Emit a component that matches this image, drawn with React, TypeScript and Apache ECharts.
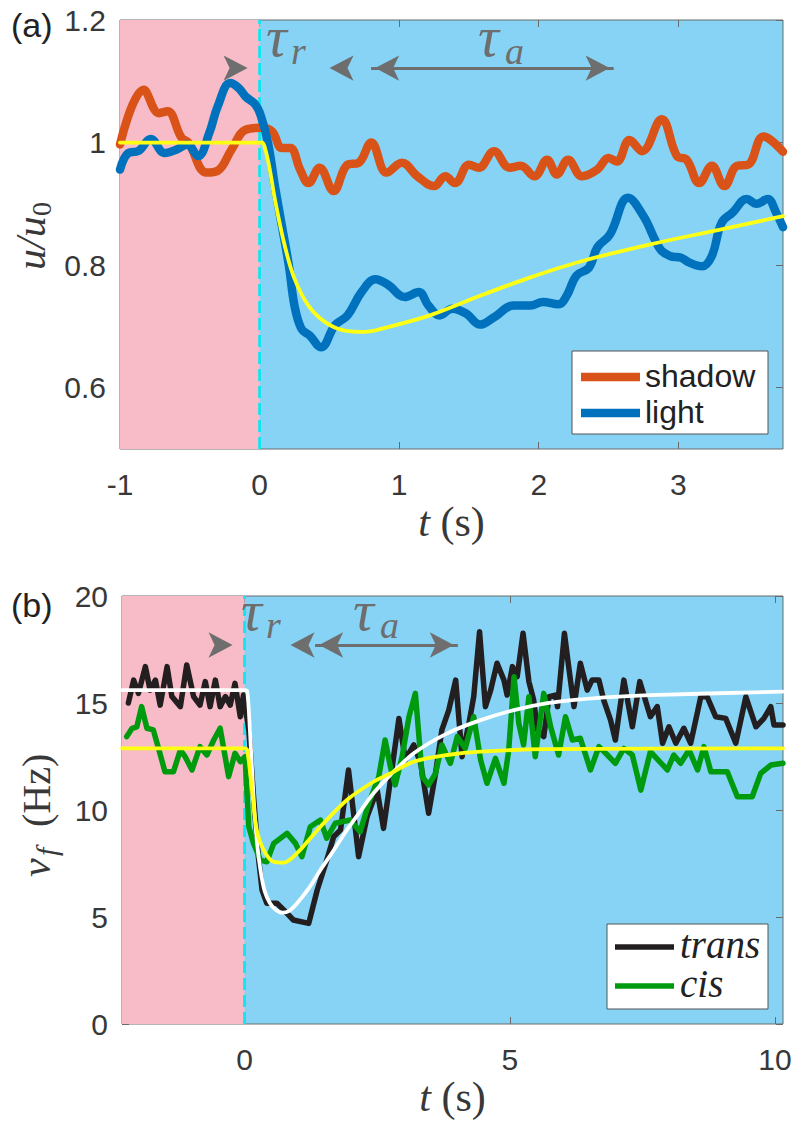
import React, { useEffect, useRef } from 'react';
import * as echarts from 'echarts';

// ---------- Panel (a) data: t (s), u/u0 ----------
const shadowA: number[][] = [
  [-1.0, 0.997], [-0.83, 1.086], [-0.72, 1.048], [-0.66, 1.051], [-0.56, 1.008], [-0.51, 1.0],
  [-0.38, 0.951], [-0.3, 0.954], [-0.2, 0.989], [-0.1, 1.021], [0.01, 1.024], [0.09, 1.018],
  [0.16, 0.991], [0.22, 0.991], [0.29, 0.956], [0.35, 0.934], [0.43, 0.959], [0.53, 0.921],
  [0.63, 0.964], [0.71, 0.967], [0.8, 1.0], [0.91, 0.951], [1.02, 0.967], [1.13, 0.945],
  [1.25, 0.929], [1.33, 0.945], [1.4, 0.934], [1.5, 0.964], [1.57, 0.959], [1.68, 0.986],
  [1.79, 0.959], [1.87, 0.962], [1.97, 0.945], [2.06, 0.972], [2.13, 0.948], [2.21, 0.972],
  [2.31, 0.945], [2.42, 0.956], [2.5, 0.975], [2.56, 0.969], [2.65, 1.004], [2.74, 0.986],
  [2.88, 1.038], [2.99, 0.978], [3.06, 0.972], [3.15, 0.934], [3.24, 0.962], [3.33, 0.929],
  [3.42, 0.962], [3.5, 0.964], [3.61, 1.01], [3.75, 0.985],
];
const lightA: number[][] = [
  [-1.0, 0.956], [-0.94, 0.983], [-0.87, 0.986], [-0.78, 1.006], [-0.68, 0.983], [-0.59, 0.989],
  [-0.52, 0.997], [-0.44, 0.978], [-0.36, 1.016], [-0.3, 1.059], [-0.21, 1.097], [-0.15, 1.089],
  [-0.1, 1.075], [-0.03, 1.062], [0.01, 1.043], [0.06, 1.0], [0.11, 0.929], [0.16, 0.864],
  [0.21, 0.799], [0.25, 0.734], [0.3, 0.696], [0.36, 0.685], [0.44, 0.666], [0.54, 0.702],
  [0.63, 0.718], [0.73, 0.756], [0.83, 0.777], [0.92, 0.768], [1.04, 0.748], [1.14, 0.756],
  [1.21, 0.734], [1.29, 0.718], [1.38, 0.729], [1.48, 0.721], [1.58, 0.703], [1.68, 0.715],
  [1.82, 0.734], [1.94, 0.734], [2.03, 0.74], [2.14, 0.736], [2.2, 0.75], [2.27, 0.783],
  [2.36, 0.796], [2.42, 0.829], [2.51, 0.85], [2.64, 0.91], [2.75, 0.88], [2.87, 0.826],
  [2.94, 0.815], [3.02, 0.812], [3.08, 0.804], [3.17, 0.798], [3.24, 0.815], [3.31, 0.869],
  [3.39, 0.886], [3.49, 0.908], [3.56, 0.9], [3.64, 0.908], [3.7, 0.886], [3.75, 0.862],
];
const fitA: number[][] = [
  [-1.0, 1.0], [0.0, 1.0], [0.02, 1.0], [0.04, 0.99], [0.07, 0.96], [0.11, 0.907], [0.18, 0.832],
  [0.25, 0.778], [0.35, 0.734], [0.47, 0.707], [0.61, 0.693], [0.75, 0.691], [0.92, 0.699],
  [1.22, 0.718], [1.58, 0.75], [1.94, 0.78], [2.3, 0.806], [2.8, 0.834], [3.3, 0.858], [3.75, 0.88],
];

// ---------- Panel (b) data: t (s), nu_f (Hz) ----------
const transB: number[][] = [
  [-2.19, 15.0], [-2.09, 16.07], [-2.0, 15.45], [-1.87, 16.7], [-1.78, 15.6], [-1.68, 16.07],
  [-1.59, 14.9], [-1.46, 16.7], [-1.37, 15.3], [-1.21, 14.83], [-1.09, 16.78], [-0.96, 15.3],
  [-0.84, 14.9], [-0.74, 16.0], [-0.65, 14.83], [-0.55, 16.07], [-0.46, 14.83], [-0.36, 15.3],
  [-0.27, 14.9], [-0.18, 15.92], [-0.08, 14.36], [-0.02, 15.37], [0.08, 13.74], [0.17, 10.62],
  [0.26, 7.82], [0.33, 6.26], [0.42, 5.64], [0.61, 5.64], [0.74, 5.33], [0.92, 4.86], [1.21, 4.7],
  [1.37, 6.26], [1.55, 7.66], [1.68, 8.75], [1.81, 9.07], [1.96, 11.87], [2.15, 7.82], [2.31, 9.69],
  [2.5, 10.93], [2.62, 9.14], [2.75, 11.4], [2.91, 14.28], [3.03, 12.34], [3.19, 13.04],
  [3.32, 12.18], [3.47, 9.85], [3.6, 11.71], [3.72, 13.74], [3.85, 14.67], [3.98, 16.07],
  [4.1, 12.49], [4.23, 14.05], [4.32, 15.29], [4.43, 18.33], [4.54, 14.83], [4.64, 15.6],
  [4.76, 16.86], [4.89, 16.07], [4.95, 15.37], [5.05, 16.7], [5.14, 16.23], [5.25, 18.26],
  [5.36, 16.0], [5.45, 15.14], [5.52, 13.74], [5.64, 13.43], [5.74, 15.3], [5.86, 15.37],
  [5.9, 14.83], [6.03, 18.26], [6.11, 16.7], [6.21, 14.83], [6.33, 16.86], [6.46, 15.6],
  [6.55, 16.07], [6.68, 16.07], [6.77, 15.14], [6.9, 14.2], [6.99, 13.27], [7.15, 16.07],
  [7.31, 13.89], [7.45, 16.0], [7.65, 14.36], [7.78, 14.83], [7.88, 13.12], [8.0, 13.89],
  [8.13, 13.12], [8.28, 13.82], [8.41, 13.12], [8.6, 15.29], [8.72, 15.29], [8.88, 14.36],
  [9.07, 14.28], [9.26, 13.12], [9.45, 15.29], [9.64, 13.89], [9.79, 14.28], [9.92, 14.83],
  [9.98, 13.97], [10.15, 13.97],
];
const cisB: number[][] = [
  [-2.22, 13.43], [-2.12, 13.82], [-2.03, 13.89], [-1.94, 14.83], [-1.84, 13.82], [-1.72, 13.74],
  [-1.63, 12.96], [-1.5, 11.79], [-1.34, 11.79], [-1.21, 12.8], [-1.12, 12.49], [-0.99, 11.87],
  [-0.84, 12.96], [-0.71, 12.57], [-0.58, 13.27], [-0.46, 13.82], [-0.3, 11.56], [-0.18, 12.65],
  [-0.08, 12.26], [0.01, 12.49], [0.08, 9.22], [0.17, 8.44], [0.3, 7.66], [0.42, 7.58],
  [0.55, 8.44], [0.8, 8.91], [0.96, 8.44], [1.08, 7.82], [1.24, 9.22], [1.43, 9.53], [1.55, 8.68],
  [1.71, 9.38], [1.99, 9.53], [2.18, 8.99], [2.34, 10.31], [2.53, 11.56], [2.65, 13.27],
  [2.75, 12.02], [2.84, 11.17], [2.97, 12.49], [3.1, 14.36], [3.22, 15.45], [3.35, 11.56],
  [3.47, 11.17], [3.6, 11.71], [3.72, 13.04], [3.88, 12.18], [4.01, 13.43], [4.16, 12.88],
  [4.32, 14.36], [4.45, 12.34], [4.57, 11.25], [4.73, 12.41], [4.89, 11.25], [4.98, 12.8],
  [5.08, 16.23], [5.17, 14.05], [5.26, 13.04], [5.36, 15.29], [5.48, 12.49], [5.64, 15.45],
  [5.77, 13.89], [5.92, 12.57], [6.05, 14.36], [6.18, 13.27], [6.33, 13.35], [6.52, 11.87],
  [6.68, 12.96], [6.84, 12.57], [6.99, 12.18], [7.15, 12.88], [7.31, 12.57], [7.47, 10.93],
  [7.65, 12.73], [7.97, 11.87], [8.09, 12.57], [8.22, 12.18], [8.38, 12.8], [8.54, 11.87],
  [8.66, 12.96], [8.79, 11.79], [9.1, 11.79], [9.29, 10.62], [9.57, 10.62], [9.73, 11.71],
  [9.92, 12.1], [10.15, 12.18],
];
const fitTransB: number[][] = [
  [-2.31, 15.6], [0.0, 15.6], [0.05, 15.55], [0.1, 13.8], [0.17, 10.6], [0.23, 8.6], [0.3, 7.2],
  [0.38, 6.2], [0.48, 5.64], [0.58, 5.35], [0.71, 5.2], [0.85, 5.3], [0.99, 5.64], [1.2, 6.3],
  [1.43, 7.2], [1.65, 8.0], [1.93, 9.07], [2.2, 10.0], [2.43, 10.78], [2.75, 11.64], [3.19, 12.65],
  [3.82, 13.58], [4.45, 14.2], [5.08, 14.67], [5.71, 14.99], [6.33, 15.17], [6.96, 15.29],
  [7.65, 15.37], [10.15, 15.53],
];
const fitCisB: number[][] = [
  [-2.31, 12.88], [0.0, 12.88], [0.05, 12.8], [0.14, 10.93], [0.23, 9.07], [0.36, 8.13],
  [0.55, 7.58], [0.74, 7.54], [0.99, 7.98], [1.43, 9.22], [1.93, 10.47], [2.43, 11.32],
  [2.75, 11.71], [3.19, 12.26], [3.82, 12.57], [4.45, 12.73], [5.71, 12.84], [10.15, 12.88],
];

// ---------- axes ----------
const xRangeA = [-1, 3.75];
const yRangeA = [0.5, 1.2];
const xTicksA = [-1, 0, 1, 2, 3];
const yTicksA = [0.6, 0.8, 1, 1.2];
const xRangeB = [-2.31, 10.15];
const yRangeB = [0, 20];
const xTicksB = [0, 5, 10];
const yTicksB = [0, 5, 10, 15, 20];

// response-time annotations (t values at arrow tips)
const tauRA = [0, 0.415];
const tauAA = [0.742, 2.594];
const arrowYA = 1.1215;
const tauRB = [0, 0.64];
const tauAB = [1.18, 4.17];
const arrowYB = 17.71;

// ---------- styling ----------
const PINK = '#F7BCC7';
const BLUE = '#86D3F5';
const CYAN = '#0EE6F0';
const AX = '#6b6b6b';
const LBL = '#383838';
const GRAY = '#6e6e6e';
const SANS = 'Liberation Sans, Arial, sans-serif';
const SERIF = 'Liberation Serif, Times New Roman, serif';
const C_SHADOW = '#D95319';
const C_LIGHT = '#0072BD';
const C_YELLOW = '#FFFF14';
const C_TRANS = '#231F20';
const C_CIS = '#009A0E';

const fmt = (v: number) => String(Math.round(v * 100) / 100);

function axesFor(grid: number, xr: number[], yr: number[], xt: number[], yt: number[]) {
  const tick = { show: true, inside: true, length: 7, lineStyle: { color: AX, width: 1 } };
  const base = {
    type: 'value',
    gridIndex: grid,
    splitLine: { show: false },
    axisLine: { show: false, onZero: false },
  };
  const xName = {
    name: '{i|t}{r|\u00a0(s)}',
    nameLocation: 'middle',
    nameGap: 52,
    nameTextStyle: {
      rich: {
        i: { fontFamily: SERIF, fontStyle: 'italic', fontSize: 42, color: LBL },
        r: { fontFamily: SERIF, fontSize: 42, color: LBL },
      },
    },
  };
  const x = [
    {
      ...base, ...xName, position: 'bottom', min: xr[0], max: xr[1],
      axisTick: { ...tick, customValues: xt },
      axisLabel: { show: true, customValues: xt, margin: 20, fontSize: 30, fontFamily: SANS, color: LBL, formatter: fmt },
    },
    {
      ...base, position: 'top', min: xr[0], max: xr[1],
      axisTick: { ...tick, customValues: xt }, axisLabel: { show: false },
    },
  ];
  const y = [
    {
      ...base, position: 'left', min: yr[0], max: yr[1],
      axisTick: { ...tick, customValues: yt },
      axisLabel: { show: true, customValues: yt, margin: 14, fontSize: 30, fontFamily: SANS, color: LBL, formatter: fmt },
    },
    {
      ...base, position: 'right', min: yr[0], max: yr[1],
      axisTick: { ...tick, customValues: yt }, axisLabel: { show: false },
    },
  ];
  return { x, y };
}

function arrowHeads(tr: number[], ta: number[], y: number) {
  const head = (t: number, dir: 'right' | 'left') => ({
    coord: [t, y],
    symbol: 'arrow',
    symbolSize: [19, 24],
    symbolRotate: dir === 'right' ? -90 : 90,
    symbolOffset: [dir === 'right' ? -12 : 12, 0],
    itemStyle: { color: GRAY },
    label: { show: false },
  });
  return [head(tr[0], 'right'), head(tr[1], 'left'), head(ta[0], 'left'), head(ta[1], 'right')];
}

function backgroundSeries(xi: number, yi: number, xr: number[], yr: number[], tr: number[], ta: number[], ay: number) {
  const span = (xr[1] - xr[0]) * 0.012;
  return [
    {
      type: 'line', xAxisIndex: xi, yAxisIndex: yi, z: 1, silent: true,
      data: [[xr[0], yr[0]]], showSymbol: false, lineStyle: { opacity: 0 },
      markArea: { silent: true, itemStyle: { color: PINK }, data: [[{ xAxis: xr[0] }, { xAxis: 0 }]] },
      markPoint: { silent: true, data: arrowHeads(tr, ta, ay) },
      markLine: {
        silent: true, symbol: ['none', 'none'], label: { show: false },
        lineStyle: { color: GRAY, width: 3, type: 'solid' },
        data: [[{ coord: [ta[0] + span, ay] }, { coord: [ta[1] - span, ay] }]],
      },
    },
    {
      type: 'line', xAxisIndex: xi, yAxisIndex: yi, z: 1, silent: true, showSymbol: false,
      data: [[0, yr[0]], [0, yr[1]]],
      lineStyle: { color: CYAN, width: 2.8, type: [12, 5] },
    },
  ];
}

function lineSeries(name: string, xi: number, yi: number, data: number[][], color: string, width: number, smooth: number | boolean) {
  return {
    name, type: 'line', xAxisIndex: xi, yAxisIndex: yi, z: 3, data, smooth,
    showSymbol: false, symbol: 'none', lineStyle: { color, width, cap: 'round', join: 'round' },
    itemStyle: { color },
  };
}

export default function App() {
  const ref = useRef<HTMLDivElement>(null);
  useEffect(() => {
    document.body.style.margin = '0';
    const chart = echarts.init(ref.current!, null, { renderer: 'svg' });
    const a = axesFor(0, xRangeA, yRangeA, xTicksA, yTicksA);
    const b = axesFor(1, xRangeB, yRangeB, xTicksB, yTicksB);

    const tauText = (sym: string, sub: string, x: number, y: number, subDx: number) => [
      { type: 'text', x, y, z: 50, style: { text: sym, font: `italic 58px ${SERIF}`, fill: GRAY, align: 'left', verticalAlign: 'middle' } },
      { type: 'text', x: x + subDx, y: y + 15, z: 50, style: { text: sub, font: `italic 38px ${SERIF}`, fill: GRAY, align: 'left', verticalAlign: 'middle' } },
    ];

    const option: any = {
      animation: false,
      backgroundColor: '#ffffff',
      grid: [
        { left: 120, top: 20, width: 663, height: 429, show: true, backgroundColor: BLUE, borderColor: AX, borderWidth: 1 },
        { left: 122, top: 596, width: 661, height: 428, show: true, backgroundColor: BLUE, borderColor: AX, borderWidth: 1 },
      ],
      xAxis: [...a.x, ...b.x],
      yAxis: [...a.y, ...b.y],
      series: [
        ...backgroundSeries(0, 0, xRangeA, yRangeA, tauRA, tauAA, arrowYA),
        lineSeries('shadow', 0, 0, shadowA, C_SHADOW, 8.5, 0.4),
        lineSeries('light', 0, 0, lightA, C_LIGHT, 8.5, 0.4),
        lineSeries('fitA', 0, 0, fitA, C_YELLOW, 3.8, 0.35),
        ...backgroundSeries(2, 2, xRangeB, yRangeB, tauRB, tauAB, arrowYB),
        lineSeries('trans', 2, 2, transB, C_TRANS, 5.5, false),
        lineSeries('cis', 2, 2, cisB, C_CIS, 5.5, false),
        lineSeries('fitTrans', 2, 2, fitTransB, '#ffffff', 3.8, 0.3),
        lineSeries('fitCis', 2, 2, fitCisB, C_YELLOW, 3.8, 0.3),
      ],
      graphic: [
        { type: 'text', x: 11, y: 25, style: { text: '(a)', font: `34px ${SANS}`, fill: '#222', verticalAlign: 'middle' } },
        { type: 'text', x: 11, y: 605, style: { text: '(b)', font: `34px ${SANS}`, fill: '#222', verticalAlign: 'middle' } },
        ...tauText('τ', 'r', 266, 36, 25),
        ...tauText('τ', 'a', 478, 36, 27),
        ...tauText('τ', 'r', 241, 610, 25),
        ...tauText('τ', 'a', 353, 610, 27),
        {
          type: 'group', x: 31, y: 232, rotation: Math.PI / 2,
          children: [
            { type: 'text', x: -38, y: 0, style: { text: 'u/u', font: `italic 42px ${SERIF}`, fill: LBL, align: 'left', verticalAlign: 'middle' } },
            { type: 'text', x: 16, y: 10, style: { text: '0', font: `28px ${SERIF}`, fill: LBL, align: 'left', verticalAlign: 'middle' } },
          ],
        },
        {
          type: 'group', x: 36, y: 877, rotation: Math.PI / 2,
          children: [
            { type: 'text', x: 0, y: 0, style: { text: 'ν', font: `italic 42px ${SERIF}`, fill: LBL, align: 'left', verticalAlign: 'middle' } },
            { type: 'text', x: 21, y: 10, style: { text: 'f', font: `italic 30px ${SERIF}`, fill: LBL, align: 'left', verticalAlign: 'middle' } },
            { type: 'text', x: 50, y: 0, style: { text: '(Hz)', font: `40px ${SERIF}`, fill: LBL, align: 'left', verticalAlign: 'middle' } },
          ],
        },
        // legend (a)
        { type: 'rect', shape: { x: 572, y: 351, width: 196, height: 83 }, style: { fill: '#ffffff', stroke: '#555', lineWidth: 1 }, z: 40 },
        { type: 'line', shape: { x1: 581, y1: 377, x2: 640, y2: 377 }, style: { stroke: C_SHADOW, lineWidth: 8.5 }, z: 41 },
        { type: 'line', shape: { x1: 581, y1: 413, x2: 640, y2: 413 }, style: { stroke: C_LIGHT, lineWidth: 8.5 }, z: 41 },
        { type: 'text', x: 645, y: 376, z: 41, style: { text: 'shadow', font: `32px ${SANS}`, fill: '#222', verticalAlign: 'middle' } },
        { type: 'text', x: 645, y: 412, z: 41, style: { text: 'light', font: `32px ${SANS}`, fill: '#222', verticalAlign: 'middle' } },
        // legend (b)
        { type: 'rect', shape: { x: 607, y: 924, width: 161, height: 85 }, style: { fill: '#ffffff', stroke: '#555', lineWidth: 1 }, z: 40 },
        { type: 'line', shape: { x1: 615, y1: 947, x2: 674, y2: 947 }, style: { stroke: C_TRANS, lineWidth: 5.5 }, z: 41 },
        { type: 'line', shape: { x1: 615, y1: 986, x2: 674, y2: 986 }, style: { stroke: C_CIS, lineWidth: 5.5 }, z: 41 },
        { type: 'text', x: 680, y: 944, z: 41, style: { text: 'trans', font: `italic 39px ${SERIF}`, fill: '#222', verticalAlign: 'middle' } },
        { type: 'text', x: 680, y: 983, z: 41, style: { text: 'cis', font: `italic 39px ${SERIF}`, fill: '#222', verticalAlign: 'middle' } },
      ],
    };
    chart.setOption(option);
    return () => chart.dispose();
  }, []);
  return <div ref={ref} style={{ width: 800, height: 1132 }} />;
}
